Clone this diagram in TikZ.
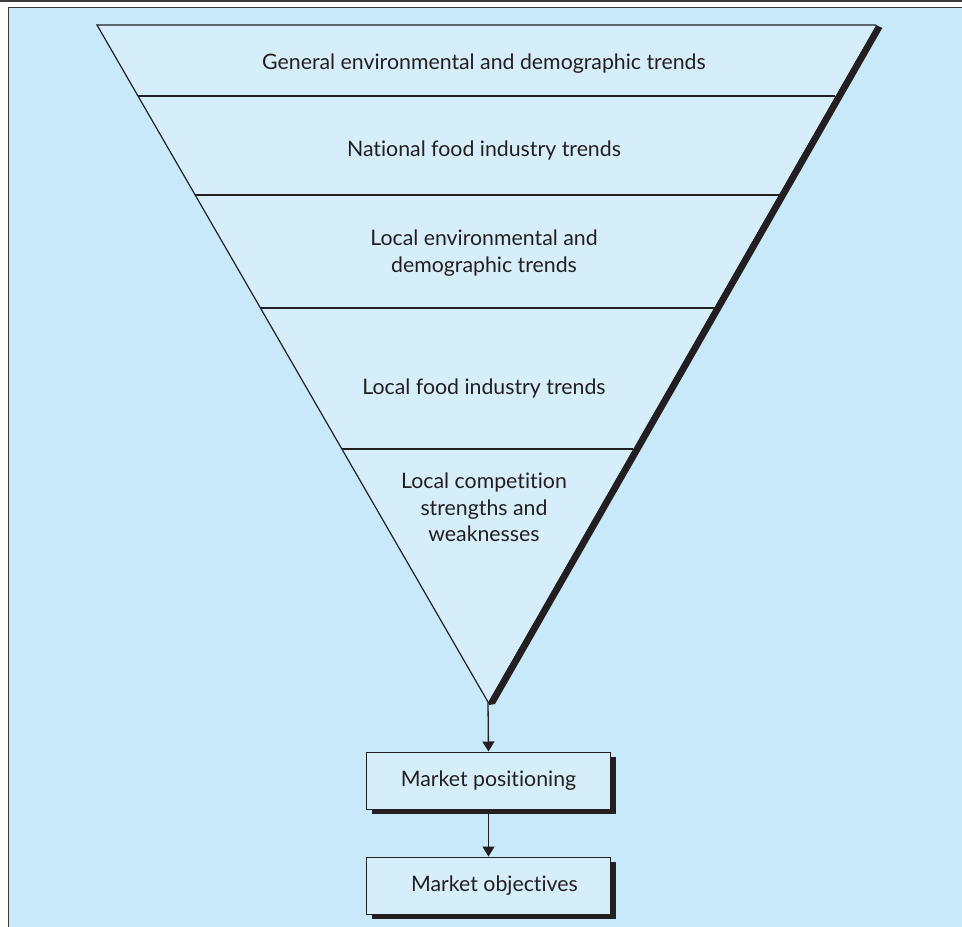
\documentclass[tikz,border=0pt]{standalone}
\usepackage{fontspec}
\setmainfont{Lato}[Ligatures=NoCommon]
\usetikzlibrary{calc,arrows.meta}
\definecolor{bgblue}{RGB}{199,233,249}
\definecolor{fillblue}{RGB}{214,238,250}
\definecolor{ink}{RGB}{35,31,32}
\definecolor{framegray}{RGB}{60,60,60}
\tikzset{
  lbl/.style={text=ink, font=\fontsize{21.3}{26.5}\selectfont, align=center, inner sep=0pt},
  sep/.style={draw=ink, line width=1.3pt},
  boxnode/.style={draw=ink, line width=1pt, fill=fillblue, minimum width=244pt, minimum height=57pt, inner sep=0pt, text=ink, font=\fontsize{21.3}{26.5}\selectfont},
  flow/.style={draw=ink, line width=1.3pt, -{Triangle[width=12pt,length=10pt]}}
}
\begin{document}
\begin{tikzpicture}[x=1pt,y=-1pt]
\useasboundingbox (0,0) rectangle (962,927);
\fill[white] (0,0) rectangle (962,927);
\draw[framegray, line width=1.5pt] (0,0.75) -- (962,0.75);
\fill[bgblue] (8.5,7.5) rectangle (962,927);
\draw[framegray, line width=1.5pt] (8.5,927) -- (8.5,7.5) -- (962,7.5);

% funnel
\coordinate (T1) at (97,25);
\coordinate (T2) at (876,25);
\coordinate (A) at (488,702);
\fill[ink] (T2) -- ($(T2)+(6.3,3)$) -- ($(A)+(7,2)$) -- ($(A)+(1,3)$) -- (A) -- cycle;
\fill[fillblue] (T1) -- (T2) -- (A) -- cycle;
\draw[ink, line width=1.2pt, line join=miter] (A) -- (T1) -- (T2);

\foreach \t/\n in {0.1049/a,0.2511/b,0.4180/c,0.6263/d}{
  \coordinate (L\n) at ($(T1)!\t!(A)$);
  \coordinate (R\n) at ($(T2)!\t!(A)$);
  \draw[sep] (L\n) -- (R\n);
}

\node[lbl, anchor=base] (t1) at (484,69) {General environmental and demographic trends};
\node[lbl, anchor=base] (t2) at (484,156) {National food industry trends};
\node[lbl] (t3) at (484,253) {Local environmental and\\demographic trends};
\node[lbl, anchor=base] (t4) at (484,394) {Local food industry trends};
\node[lbl] (t5) at (484,507.5) {Local competition\\strengths and\\weaknesses};

% boxes
\fill[ink] (372,757) rectangle (616,814);
\node[boxnode] (b1) at (488.5,780.5) {Market positioning};
\fill[ink] (372,862) rectangle (616,919);
\node[boxnode] (b2) at (488.5,885.5) {\hspace*{12pt}Market objectives};

\draw[flow] (A) -- (b1.north);
\draw[flow] (b1.south) -- (b2.north);
\end{tikzpicture}
\end{document}
